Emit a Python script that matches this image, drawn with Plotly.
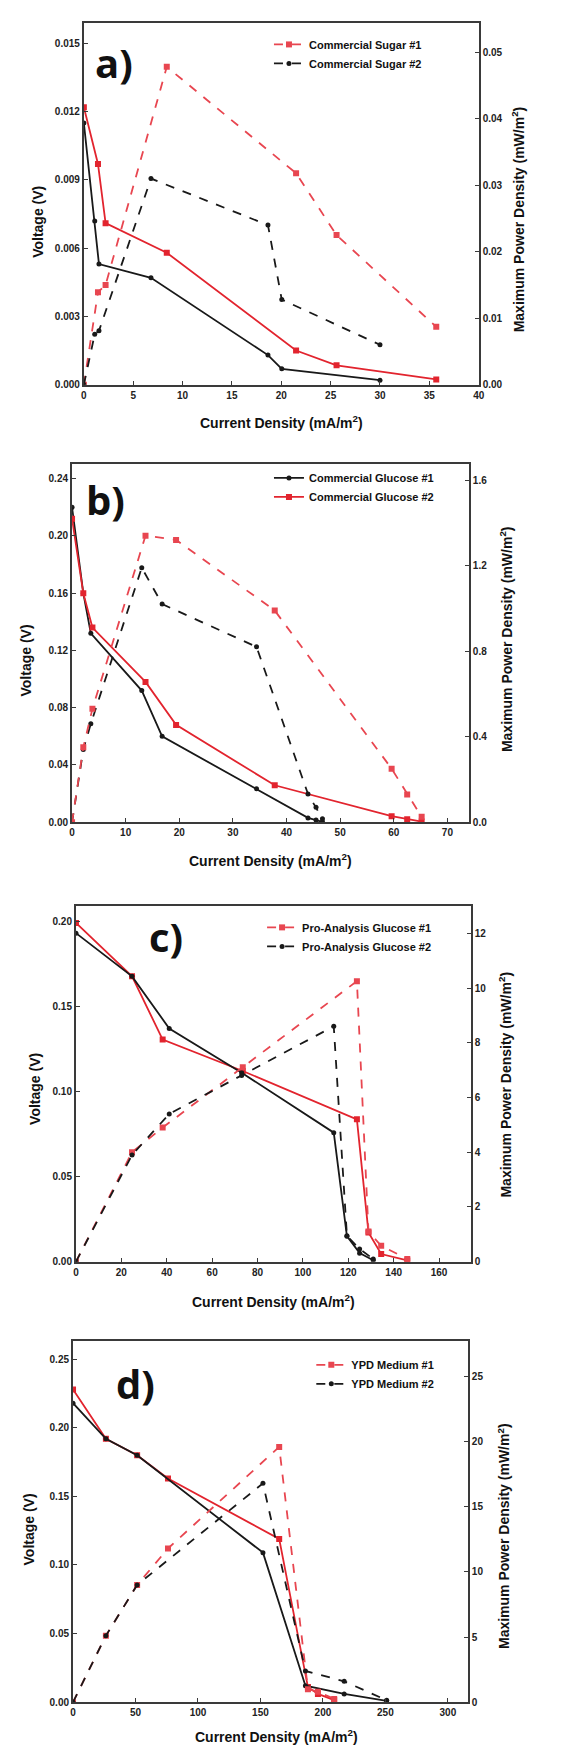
import plotly.graph_objects as go

# ---------------- data ----------------
# a) Commercial Sugar
a_cd1 = [0, 1.43, 2.2, 8.4, 21.5, 25.6, 35.7]
a_v1 = [0.0122, 0.0097, 0.0071, 0.0058, 0.0015, 0.00085, 0.00023]
a_p1 = [0.0, 0.0139, 0.0150, 0.0478, 0.0318, 0.0225, 0.0087]
a_cd2 = [0, 1.1, 1.53, 6.8, 18.65, 20.05, 30.0]
a_v2 = [0.0115, 0.0072, 0.0053, 0.0047, 0.0013, 0.0007, 0.0002]
a_p2 = [0.0, 0.0076, 0.0081, 0.0310, 0.0240, 0.0128, 0.0060]

# b) Commercial Glucose
b_cd1 = [0, 2.1, 3.5, 13.0, 16.8, 34.4, 44.0, 45.5, 46.7]
b_v1 = [0.220, 0.160, 0.132, 0.092, 0.060, 0.0234, 0.003, 0.0015, 0.0003]
b_p1 = [0, 0.34, 0.46, 1.19, 1.02, 0.82, 0.132, 0.07, 0.016]
b_cd2 = [0, 2.1, 3.8, 13.7, 19.4, 37.8, 59.6, 62.5, 65.2]
b_v2 = [0.212, 0.160, 0.136, 0.098, 0.068, 0.0258, 0.0042, 0.002, 0.0004]
b_p2 = [0, 0.35, 0.53, 1.34, 1.32, 0.99, 0.25, 0.13, 0.025]

# c) Pro-Analysis Glucose
c_cd1 = [0, 24.7, 38.2, 73.5, 123.8, 128.9, 134.5, 146.0]
c_v1 = [0.199, 0.1676, 0.1305, 0.112, 0.0836, 0.0172, 0.0045, 0.0007]
c_p1 = [0, 4.0, 4.9, 7.1, 10.25, 1.1, 0.58, 0.1]
c_cd2 = [0, 24.7, 41.1, 73.0, 113.6, 119.4, 125.0, 131.0]
c_v2 = [0.193, 0.1676, 0.137, 0.111, 0.0758, 0.0150, 0.0050, 0.0008]
c_p2 = [0, 3.9, 5.4, 6.8, 8.6, 0.95, 0.46, 0.1]

# d) YPD Medium
d_cd1 = [0, 26.3, 51.3, 76, 165, 188, 196, 209]
d_v1 = [0.228, 0.192, 0.180, 0.163, 0.119, 0.011, 0.006, 0.0015]
d_p1 = [0, 5.1, 9.0, 11.8, 19.6, 1.0, 0.8, 0.25]
d_cd2 = [0, 26.3, 51.3, 152, 186, 217, 251]
d_v2 = [0.218, 0.192, 0.180, 0.109, 0.012, 0.006, 0.001]
d_p2 = [0, 5.1, 9.0, 16.8, 2.4, 1.6, 0.15]

names_a = ["Commercial Sugar #1", "Commercial Sugar #2"]
names_b = ["Commercial Glucose #1", "Commercial Glucose #2"]
names_c = ["Pro-Analysis Glucose #1", "Pro-Analysis Glucose #2"]
names_d = ["YPD Medium #1", "YPD Medium #2"]

RED = "rgb(226,36,46)"
RED_DASH = "rgb(232,70,80)"
BLACK = "rgb(25,25,25)"

panels = [
    dict(lab="a)", s1=(a_cd1, a_v1, a_p1), s2=(a_cd2, a_v2, a_p2), names=names_a,
         c1=RED, c2=BLACK, legend_from="p",
         xr=[0, 40], xd=5, yl=[0, 0.0159], yld=0.003, ylf=".3f",
         yr=[0, 0.0544], yrd=0.01, yrf=".2f"),
    dict(lab="b)", s1=(b_cd1, b_v1, b_p1), s2=(b_cd2, b_v2, b_p2), names=names_b,
         c1=BLACK, c2=RED, legend_from="v",
         xr=[0, 74], xd=10, yl=[0, 0.250], yld=0.04, ylf=".2f",
         yr=[0, 1.673], yrd=0.4, yrf=".1f"),
    dict(lab="c)", s1=(c_cd1, c_v1, c_p1), s2=(c_cd2, c_v2, c_p2), names=names_c,
         c1=RED, c2=BLACK, legend_from="p",
         xr=[0, 174], xd=20, yl=[0, 0.209], yld=0.05, ylf=".2f",
         yr=[0, 13], yrd=2, yrf="d"),
    dict(lab="d)", s1=(d_cd1, d_v1, d_p1), s2=(d_cd2, d_v2, d_p2), names=names_d,
         c1=RED, c2=BLACK, legend_from="p",
         xr=[0, 316], xd=50, yl=[0, 0.263], yld=0.05, ylf=".2f",
         yr=[0, 27.7], yrd=5, yrf="d"),
]

W, H = 585, 1745
boxes = [(74, 475, 15, 378), (62, 465, 458, 817), (66, 467, 901, 1258), (63, 464, 1338, 1700)]
legend_pos = [(262, 22), (262, 457), (255, 908), (305, 1347)]
label_pos = [(105, 55), (96, 493), (157, 932), (126, 1380)]
xtitle_pos = [(275, 415), (264, 855), (267, 1297), (270, 1734)]
ltitle_pos = [(28, 215), (15, 655), (25, 1085), (18, 1527)]
rtitle_pos = [(515, 212), (503, 633), (502, 1080), (500, 1533)]

FONT = "Liberation Sans, Arial, sans-serif"
fig = go.Figure()
layout = {}
annotations = []


def px(x):
    return x / W


def py(y):
    return 1 - y / H


def ann(text, pos, size, family=FONT, angle=0):
    return dict(text=text, x=px(pos[0]), y=py(pos[1]), xref="paper", yref="paper",
                xanchor="center", yanchor="middle", showarrow=False, textangle=angle,
                font=dict(family=family, size=size, color="#111", weight="bold"))


for i, p in enumerate(panels):
    n = i + 1
    xa = "x" if n == 1 else f"x{n}"
    yln, yrn = 2 * n - 1, 2 * n
    yl = "y" if yln == 1 else f"y{yln}"
    yr = f"y{yrn}"
    leg = "legend" if n == 1 else f"legend{n}"
    l, r, t, b = boxes[i]

    axis_common = dict(showline=True, linecolor="#3a3a3a", linewidth=2, ticks="inside",
                       ticklen=4, tickcolor="#3a3a3a", showgrid=False, zeroline=False,
                       tickfont=dict(family=FONT, size=10, color="#222", weight="bold"))
    layout["xaxis" if n == 1 else f"xaxis{n}"] = dict(
        domain=[px(l), px(r)], anchor=yl, range=p["xr"], dtick=p["xd"], tick0=0,
        mirror=True, **axis_common)
    layout["yaxis" if n == 1 else f"yaxis{yln}"] = dict(
        domain=[py(b), py(t)], anchor=xa, range=p["yl"], dtick=p["yld"], tick0=0,
        tickformat=p["ylf"], **axis_common)
    layout[f"yaxis{yrn}"] = dict(
        overlaying=yl, side="right", anchor=xa, range=p["yr"], dtick=p["yrd"], tick0=0,
        tickformat=p["yrf"], **axis_common)

    for k, (ser, col) in enumerate([(p["s1"], p["c1"]), (p["s2"], p["c2"])]):
        cd, v, pw = ser
        sym = "square" if col == RED else "circle"
        msize = 6 if col == RED else 5
        dcol = RED_DASH if col == RED else col
        showv = p["legend_from"] == "v"
        fig.add_trace(go.Scatter(
            x=cd, y=v, xaxis=xa, yaxis=yl, mode="lines+markers", name=p["names"][k],
            line=dict(color=col, width=1.8), marker=dict(symbol=sym, size=msize, color=col),
            showlegend=showv, legend=leg))
        fig.add_trace(go.Scatter(
            x=cd, y=pw, xaxis=xa, yaxis=yr, mode="lines+markers", name=p["names"][k],
            line=dict(color=dcol, width=1.8, dash="dash"),
            marker=dict(symbol=sym, size=msize, color=dcol),
            showlegend=not showv, legend=leg))

    lx, ly = legend_pos[i]
    layout[leg] = dict(x=px(lx), y=py(ly), xanchor="left", yanchor="top",
                       bgcolor="rgba(0,0,0,0)", itemwidth=30,
                       font=dict(family=FONT, size=11, color="#111", weight="bold"))

    annotations.append(ann(p["lab"], label_pos[i], 40, family="Open Sans, sans-serif"))
    annotations.append(ann("Current Density (mA/m<sup>2</sup>)", xtitle_pos[i], 14))
    annotations.append(ann("Voltage (V)", ltitle_pos[i], 14, angle=-90))
    annotations.append(ann("Maximum Power Density (mW/m<sup>2</sup>)", rtitle_pos[i],
                           14, angle=-90))

fig.update_layout(width=W, height=H, margin=dict(l=0, r=0, t=0, b=0),
                  paper_bgcolor="white", plot_bgcolor="white",
                  annotations=annotations, **layout)
fig.write_html("out.html")
